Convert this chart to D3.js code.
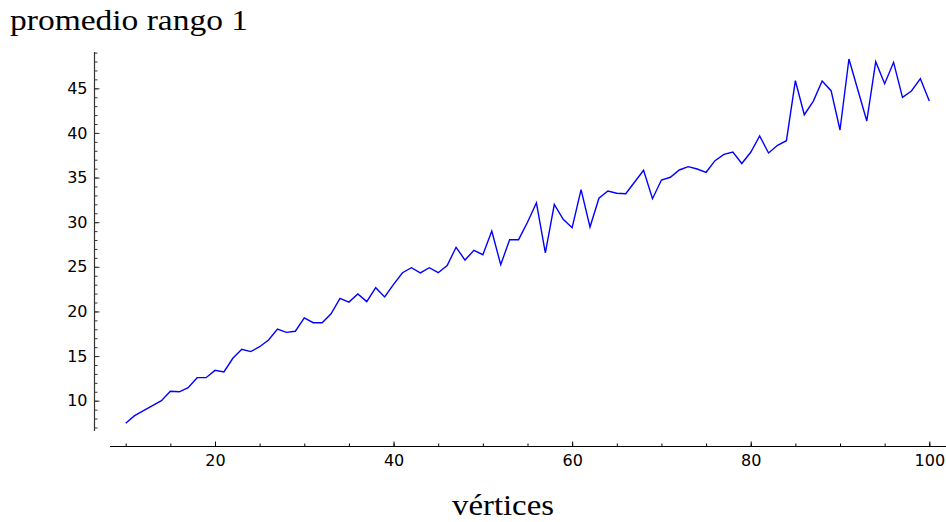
<!DOCTYPE html>
<html>
<head>
<meta charset="utf-8">
<script src="https://cdn.jsdelivr.net/npm/d3@7"></script>
<style>
  html, body { margin: 0; padding: 0; background: #fff; }
  svg { display: block; }
</style>
</head>
<body>
<svg id="chart" width="946" height="522"></svg>
<script>
// ---- data ----
const vertices = d3.range(10, 101); // x values 10..100
const promedio = [
  7.47, 8.32, 8.88, 9.44, 10.0, 11.05, 11.0, 11.46, 12.58, 12.58,
  13.4, 13.22, 14.75, 15.76, 15.5, 16.05, 16.8, 18.03, 17.66, 17.78,
  19.27, 18.74, 18.74, 19.73, 21.47, 21.05, 21.95, 21.1, 22.66, 21.62,
  23.04, 24.34, 24.9, 24.31, 24.9, 24.34, 25.13, 27.19, 25.76, 26.85,
  26.36, 29.01, 25.24, 28.04, 28.04, 29.99, 32.17, 26.57, 31.98, 30.32,
  29.38, 33.64, 29.46, 32.68, 33.49, 33.24, 33.19, 34.5, 35.81, 32.63,
  34.73, 35.03, 35.85, 36.22, 35.96, 35.59, 36.89, 37.6, 37.86, 36.57,
  37.83, 39.66, 37.75, 38.61, 39.13, 45.85, 42.04, 43.54, 45.82, 44.73,
  40.33, 48.28, 44.81, 41.34, 47.98, 45.52, 47.91, 43.99, 44.7, 46.08,
  43.58
];
const xMajorTicks = [20, 40, 60, 80, 100];
const xMinorTicks = d3.range(10, 101, 5);
const yMajorTicks = [10, 15, 20, 25, 30, 35, 40, 45];
const yMinorTicks = d3.range(7, 50, 1);
const titleText = "promedio rango 1";
const xLabelText = "vértices";

// ---- layout ----
const svg = d3.select("#chart");
const x = d3.scaleLinear().domain([10, 100]).range([125.7, 929.3]);
const y = d3.scaleLinear().domain([10, 45]).range([400.7, 88.3]);

const yAxisX = 94.5;
const xAxisY = 446.5;
const tickFont = "'DejaVu Sans', sans-serif";
const serifFont = "'Liberation Serif', 'DejaVu Serif', serif";

// x axis line
svg.append("line")
  .attr("x1", 110).attr("x2", 946)
  .attr("y1", xAxisY).attr("y2", xAxisY)
  .attr("stroke", "#000").attr("stroke-width", 1);

// y axis line
svg.append("line")
  .attr("x1", yAxisX).attr("x2", yAxisX)
  .attr("y1", 52).attr("y2", 431)
  .attr("stroke", "#333").attr("stroke-width", 1.2);

// x ticks (upwards)
const gxMinor = svg.append("g").attr("transform", `translate(0,${xAxisY})`)
  .call(d3.axisTop(x).tickValues(xMinorTicks).tickSize(3).tickFormat(""));
const gxMajor = svg.append("g").attr("transform", `translate(0,${xAxisY})`)
  .call(d3.axisTop(x).tickValues(xMajorTicks).tickSize(5).tickFormat(""));
const gxLab = svg.append("g").attr("transform", `translate(0,${xAxisY})`)
  .call(d3.axisBottom(x).tickValues(xMajorTicks).tickSize(0).tickPadding(8));
[gxMinor, gxMajor, gxLab].forEach(g => g.select(".domain").remove());
gxLab.selectAll("text").attr("font-family", tickFont).attr("font-size", 16).attr("fill", "#000");
[gxMinor, gxMajor].forEach(g => g.selectAll("line").attr("stroke", "#000"));

// y ticks (to the right)
const gyMinor = svg.append("g").attr("transform", `translate(${yAxisX},0)`)
  .call(d3.axisRight(y).tickValues(yMinorTicks).tickSize(3).tickFormat(""));
const gyMajor = svg.append("g").attr("transform", `translate(${yAxisX},0)`)
  .call(d3.axisRight(y).tickValues(yMajorTicks).tickSize(5).tickFormat(""));
const gyLab = svg.append("g").attr("transform", `translate(${yAxisX},0)`)
  .call(d3.axisLeft(y).tickValues(yMajorTicks).tickSize(0).tickPadding(7));
[gyMinor, gyMajor, gyLab].forEach(g => g.select(".domain").remove());
gyLab.selectAll("text").attr("font-family", tickFont).attr("font-size", 16).attr("fill", "#000");
[gyMinor, gyMajor].forEach(g => g.selectAll("line").attr("stroke", "#333"));

// data line
const line = d3.line()
  .x((d, i) => x(vertices[i]))
  .y(d => y(d));
svg.append("path")
  .datum(promedio)
  .attr("d", line)
  .attr("fill", "none")
  .attr("stroke", "#0000ff")
  .attr("stroke-width", 1.4)
  .attr("stroke-linejoin", "miter");

// title
svg.append("text")
  .attr("x", 10).attr("y", 30)
  .attr("font-family", serifFont)
  .attr("font-size", 30)
  .attr("fill", "#000")
  .attr("textLength", 238)
  .attr("lengthAdjust", "spacingAndGlyphs")
  .text(titleText);

// x label
svg.append("text")
  .attr("x", 503).attr("y", 515)
  .attr("text-anchor", "middle")
  .attr("font-family", serifFont)
  .attr("font-size", 30)
  .attr("fill", "#000")
  .attr("textLength", 102)
  .attr("lengthAdjust", "spacingAndGlyphs")
  .text(xLabelText);
</script>
</body>
</html>
